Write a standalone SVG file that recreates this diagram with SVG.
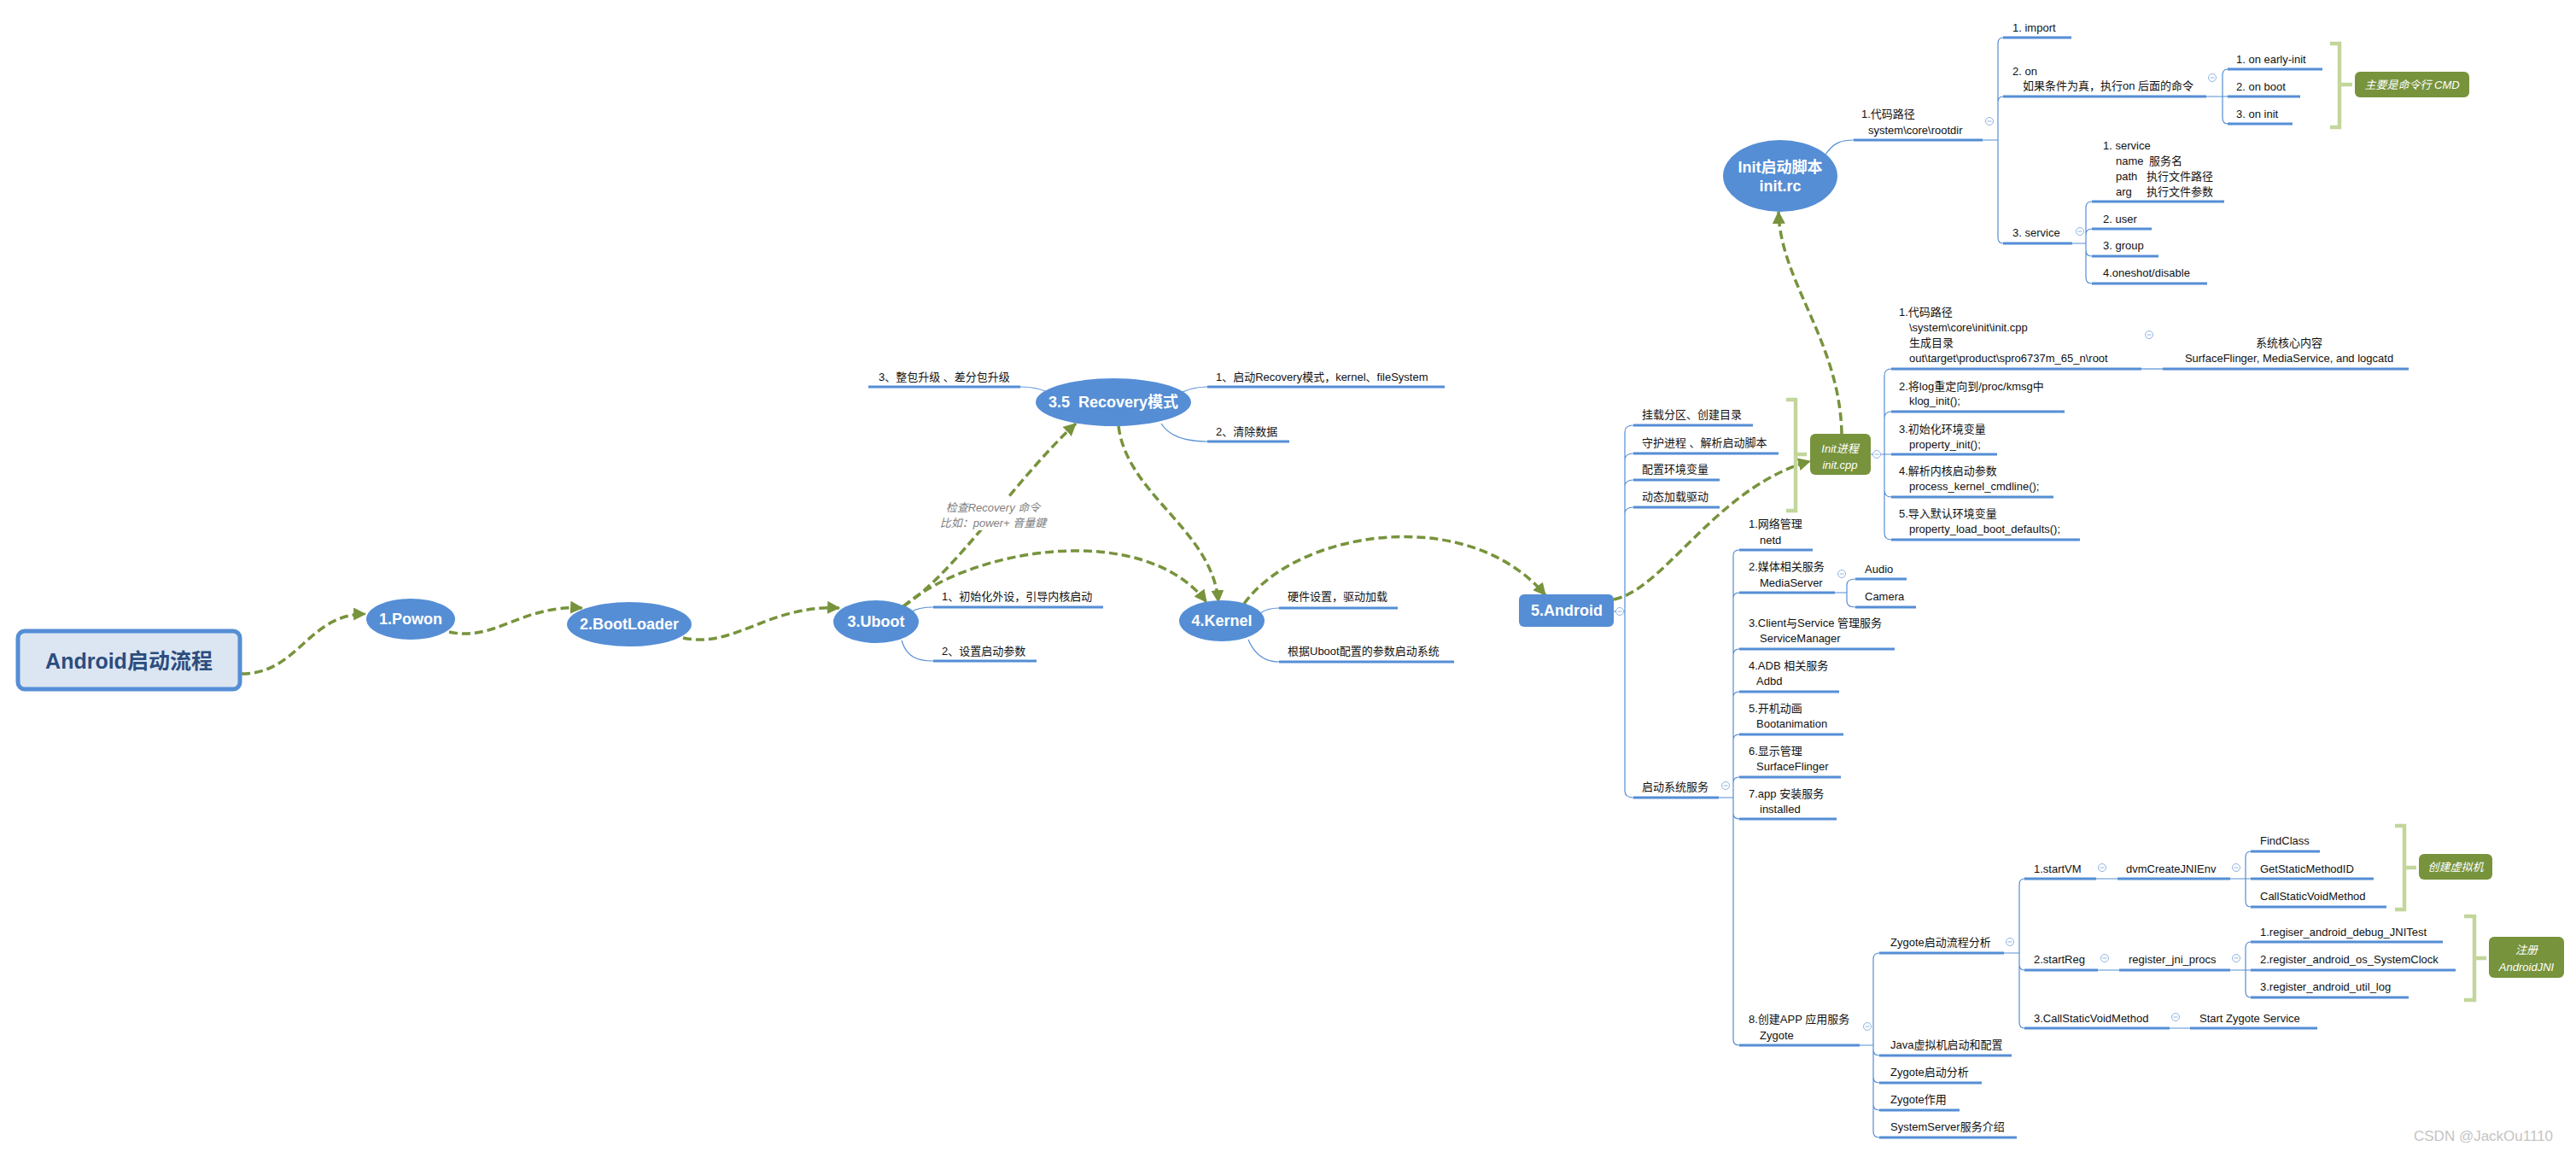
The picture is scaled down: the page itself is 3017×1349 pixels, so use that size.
<svg xmlns="http://www.w3.org/2000/svg" width="3017" height="1349" viewBox="0 0 3017 1349">
<style>
text{font-family:"Liberation Sans","Noto Sans CJK SC",sans-serif}
.t{font-size:13px;fill:#111}
.lab{font-size:18px;font-weight:bold;fill:#fff;text-anchor:middle}
.ul{stroke:#558ed5;stroke-width:3;fill:none}
.br{stroke:#558ed5;stroke-width:1.2;fill:none}
.flow{stroke:#77933c;stroke-width:3.5;stroke-dasharray:10 5;fill:none;marker-end:url(#ah)}
.bk{stroke:#c3d69b;stroke-width:4.5;fill:none}
.blue{fill:#558ed5}
.green{fill:#77933c}
.gt{font-size:13px;font-style:italic;fill:#fff;text-anchor:middle}
.rl{font-size:13px;font-style:italic;fill:#7f7f7f;text-anchor:middle}
</style>
<defs>
<marker id="ah" markerUnits="userSpaceOnUse" markerWidth="15" markerHeight="15" viewBox="0 0 14 14" refX="13" refY="7" orient="auto"><path d="M0,0 L14,7 L0,14 z" fill="#77933c"/></marker>
<g id="col"><circle r="4.5" fill="#fff" stroke="#8eb4e3" stroke-width="1"/><path d="M-2.5,0 H2.5" stroke="#8eb4e3" stroke-width="1"/></g>
</defs>
<rect width="3017" height="1349" fill="#fff"/>

<g id="connectors">
<path class="flow" d="M283,789 C350,789 360,719 428,719"/>
<path class="flow" d="M526,740 C580,752 610,708 682,712"/>
<path class="flow" d="M800,747 C860,760 900,708 983,712"/>
<path class="flow" d="M1058,710 C1120,670 1190,560 1260,496"/>
<path class="flow" d="M1058,710 C1140,640 1340,610 1413,705"/>
<path class="flow" d="M1310,499 C1320,580 1420,620 1427,705"/>
<path class="flow" d="M1457,707 C1520,620 1720,590 1810,697"/>
<path class="flow" d="M1890,702 C1950,690 2010,570 2120,540"/>
<path class="flow" d="M2157,508 C2155,400 2085,330 2083,248"/>
</g>

<g id="relation-label">
<rect x="1094" y="583" width="138" height="38" fill="#fff"/>
<text class="rl" x="1163" y="599">检查Recovery 命令</text>
<text class="rl" x="1163" y="617">比如：power+ 音量鍵</text>
</g>

<g id="root">
<rect x="21" y="739" width="260" height="68" rx="8" fill="#dce6f2" stroke="#558ed5" stroke-width="5"/>
<text x="151" y="783" text-anchor="middle" font-size="25" font-weight="bold" fill="#2c4d7e">Android启动流程</text>
</g>

<g id="powon"><ellipse class="blue" cx="481" cy="725" rx="52" ry="24"/><text class="lab" x="481" y="731">1.Powon</text></g>
<g id="bootloader"><ellipse class="blue" cx="737" cy="731" rx="73" ry="26"/><text class="lab" x="737" y="737">2.BootLoader</text></g>

<g id="uboot">
<ellipse class="blue" cx="1026" cy="728" rx="50" ry="25"/><text class="lab" x="1026" y="734">3.Uboot</text>
<path class="br" d="M1068,716 C1075,712 1082,711 1093,711"/>
<path class="ul" d="M1093,711 H1292"/>
<text class="t" x="1103" y="703">1、初始化外设，引导内核启动</text>
<path class="br" d="M1056,750 C1062,770 1075,774 1093,774"/>
<path class="ul" d="M1093,774 H1214"/>
<text class="t" x="1103" y="767">2、设置启动参数</text>
</g>

<g id="recovery">
<ellipse class="blue" cx="1304" cy="471" rx="91" ry="28"/><text class="lab" x="1304" y="477" xml:space="preserve">3.5  Recovery模式</text>
<path class="ul" d="M1017,453 H1195"/>
<path class="br" d="M1195,453 C1210,453 1218,455 1226,459"/>
<text class="t" x="1029" y="446">3、整包升级 、差分包升级</text>
<path class="br" d="M1385,459 C1394,455 1402,453 1414,453"/>
<path class="ul" d="M1414,453 H1692"/>
<text class="t" x="1424" y="446">1、启动Recovery模式，kernel、fileSystem</text>
<path class="br" d="M1360,496 C1370,512 1390,517 1414,517"/>
<path class="ul" d="M1414,517 H1510"/>
<text class="t" x="1424" y="510">2、清除数据</text>
</g>

<g id="kernel">
<ellipse class="blue" cx="1431" cy="727" rx="50" ry="24"/><text class="lab" x="1431" y="733">4.Kernel</text>
<path class="br" d="M1476,718 C1483,713 1489,712 1498,712"/>
<path class="ul" d="M1498,712 H1637"/>
<text class="t" x="1508" y="703">硬件设置，驱动加载</text>
<path class="br" d="M1462,749 C1470,768 1482,775 1498,775"/>
<path class="ul" d="M1498,775 H1703"/>
<text class="t" x="1508" y="767">根据Uboot配置的参数启动系统</text>
</g>

<g id="android">
<rect class="blue" x="1779" y="696" width="111" height="38" rx="6"/>
<text class="lab" x="1835" y="721">5.Android</text>
<path class="br" d="M1890,716 H1903"/>
<use href="#col" x="1897" y="716"/>
<path class="br" d="M1903,716 V506 Q1903,498 1913,498 M1903,539 Q1903,531 1913,531 M1903,570 Q1903,562 1913,562 M1903,602 Q1903,594 1913,594 M1903,716 V926 Q1903,934 1913,934"/>
</g>

<g id="android-children">
<path class="ul" d="M1913,498 H2053 M1913,531 H2083 M1913,562 H2014 M1913,594 H2014 M1913,934 H2013"/>
<text class="t" x="1923" y="490">挂载分区、创建目录</text>
<text class="t" x="1923" y="523" xml:space="preserve">守护进程 、解析启动脚本</text>
<text class="t" x="1923" y="554">配置环境变量</text>
<text class="t" x="1923" y="586">动态加载驱动</text>
<text class="t" x="1923" y="926">启动系统服务</text>
</g>

<g id="init-cpp">
<path class="bk" d="M2092,468 H2103 V598 H2092 M2103,532 H2116"/>
<rect class="green" x="2120" y="508" width="71" height="48" rx="6"/>
<text class="gt" x="2155" y="530" font-size="14">Init进程</text>
<text class="gt" x="2155" y="549" font-size="14">init.cpp</text>
<path class="br" d="M2191,532 H2207 M2207,532 V440 Q2207,432 2215,432 M2207,490 Q2207,482 2215,482 M2207,532 H2215 M2207,532 V624 Q2207,632 2215,632 M2207,574 Q2207,582 2215,582"/>
<use href="#col" x="2198" y="532"/>
</g>

<g id="init-cpp-children">
<path class="ul" d="M2215,432 H2508 M2215,482 H2418 M2215,532 H2339 M2215,582 H2405 M2215,632 H2436 M2533,432 H2821"/>
<path class="br" d="M2508,432 H2533"/>
<use href="#col" x="2517" y="392"/>
<text class="t" x="2224" y="370">1.代码路径</text>
<text class="t" x="2236" y="388">\system\core\init\init.cpp</text>
<text class="t" x="2236" y="406">生成目录</text>
<text class="t" x="2236" y="424">out\target\product\spro6737m_65_n\root</text>
<text class="t" x="2681" y="406" text-anchor="middle">系统核心内容</text>
<text class="t" x="2681" y="424" text-anchor="middle">SurfaceFlinger, MediaService, and logcatd</text>
<text class="t" x="2224" y="457">2.将log重定向到/proc/kmsg中</text>
<text class="t" x="2236" y="474">klog_init();</text>
<text class="t" x="2224" y="507">3.初始化环境变量</text>
<text class="t" x="2236" y="525">property_init();</text>
<text class="t" x="2224" y="556">4.解析内核启动参数</text>
<text class="t" x="2236" y="574">process_kernel_cmdline();</text>
<text class="t" x="2224" y="606">5.导入默认环境变量</text>
<text class="t" x="2236" y="624">property_load_boot_defaults();</text>
</g>

<g id="init-rc">
<ellipse class="blue" cx="2085" cy="206" rx="67" ry="42"/>
<text class="lab" x="2085" y="202">Init启动脚本</text>
<text class="lab" x="2085" y="224">init.rc</text>
<path class="br" d="M2138,181 C2148,166 2158,164 2171,164"/>
</g>

<g id="init-rc-children">
<path class="ul" d="M2171,164 H2322"/>
<text class="t" x="2180" y="138">1.代码路径</text>
<text class="t" x="2188" y="157">system\core\rootdir</text>
<use href="#col" x="2330" y="142"/>
<path class="br" d="M2322,164 H2340 M2340,164 V51 Q2340,44 2346,44 M2340,164 V120 Q2340,113 2346,113 M2340,164 V278 Q2340,285 2346,285"/>
<path class="ul" d="M2346,44 H2426 M2346,113 H2584 M2346,285 H2427"/>
<text class="t" x="2357" y="37">1. import</text>
<text class="t" x="2357" y="88">2. on</text>
<text class="t" x="2369" y="105">如果条件为真，执行on 后面的命令</text>
<text class="t" x="2357" y="277">3. service</text>
<use href="#col" x="2591" y="91"/>
<path class="br" d="M2584,113 H2603 M2603,113 V88 Q2603,81 2609,81 M2603,113 H2609 M2603,113 V138 Q2603,145 2609,145"/>
<path class="ul" d="M2609,81 H2720 M2609,113 H2694 M2609,145 H2685"/>
<text class="t" x="2619" y="74">1. on early-init</text>
<text class="t" x="2619" y="106">2. on boot</text>
<text class="t" x="2619" y="138">3. on init</text>
<path class="bk" d="M2729,51 H2740 V149 H2729 M2740,99 H2755"/>
<rect class="green" x="2758" y="84" width="134" height="30" rx="6"/>
<text class="gt" x="2825" y="104">主要是命令行 CMD</text>
<use href="#col" x="2436" y="271"/>
<path class="br" d="M2427,285 H2443 M2443,285 V243 Q2443,236 2450,236 M2443,285 V275 Q2443,268 2450,268 M2443,285 V293 Q2443,300 2450,300 M2443,285 V325 Q2443,332 2450,332"/>
<path class="ul" d="M2450,236 H2605 M2450,268 H2520 M2450,300 H2528 M2450,332 H2585"/>
<text class="t" x="2463" y="175">1. service</text>
<text class="t" y="193"><tspan x="2478">name</tspan><tspan x="2517">服务名</tspan></text>
<text class="t" y="211"><tspan x="2478">path</tspan><tspan x="2514">执行文件路径</tspan></text>
<text class="t" y="229"><tspan x="2478">arg</tspan><tspan x="2514">执行文件参数</tspan></text>
<text class="t" x="2463" y="261">2. user</text>
<text class="t" x="2463" y="292">3. group</text>
<text class="t" x="2463" y="324">4.oneshot/disable</text>
</g>

<g id="system-services">
<use href="#col" x="2021" y="920"/>
<path class="br" d="M2013,934 H2030 M2030,934 V651 Q2030,644 2037,644 M2030,701 Q2030,694 2037,694 M2030,767 Q2030,760 2037,760 M2030,817 Q2030,810 2037,810 M2030,867 Q2030,860 2037,860 M2030,917 Q2030,910 2037,910 M2030,934 V952 Q2030,959 2037,959 M2030,934 V1217 Q2030,1224 2037,1224"/>
<path class="ul" d="M2037,644 H2123 M2037,694 H2149 M2037,760 H2219 M2037,810 H2154 M2037,860 H2159 M2037,910 H2156 M2037,959 H2151 M2037,1224 H2178"/>
<text class="t" x="2048" y="618">1.网络管理</text>
<text class="t" x="2061" y="637">netd</text>
<text class="t" x="2048" y="668">2.媒体相关服务</text>
<text class="t" x="2061" y="687">MediaServer</text>
<text class="t" x="2048" y="734">3.Client与Service 管理服务</text>
<text class="t" x="2061" y="752">ServiceManager</text>
<text class="t" x="2048" y="784">4.ADB 相关服务</text>
<text class="t" x="2057" y="802">Adbd</text>
<text class="t" x="2048" y="834">5.开机动画</text>
<text class="t" x="2057" y="852">Bootanimation</text>
<text class="t" x="2048" y="884">6.显示管理</text>
<text class="t" x="2057" y="902">SurfaceFlinger</text>
<text class="t" x="2048" y="934">7.app 安装服务</text>
<text class="t" x="2061" y="952">installed</text>
<text class="t" x="2048" y="1198">8.创建APP 应用服务</text>
<text class="t" x="2061" y="1217">Zygote</text>
<use href="#col" x="2157" y="672"/>
<path class="br" d="M2149,694 H2163 M2163,694 V685 Q2163,678 2173,678 M2163,694 V704 Q2163,711 2173,711"/>
<path class="ul" d="M2173,678 H2233 M2173,711 H2244"/>
<text class="t" x="2184" y="671">Audio</text>
<text class="t" x="2184" y="703">Camera</text>
</g>

<g id="zygote">
<use href="#col" x="2187" y="1202"/>
<path class="br" d="M2178,1224 H2194 M2194,1224 V1123 Q2194,1116 2201,1116 M2194,1224 V1229 Q2194,1236 2201,1236 M2194,1224 V1261 Q2194,1268 2201,1268 M2194,1224 V1293 Q2194,1300 2201,1300 M2194,1224 V1325 Q2194,1332 2201,1332"/>
<path class="ul" d="M2201,1116 H2347 M2201,1236 H2356 M2201,1268 H2321 M2201,1300 H2295 M2201,1332 H2362"/>
<text class="t" x="2214" y="1108">Zygote启动流程分析</text>
<text class="t" x="2214" y="1228">Java虚拟机启动和配置</text>
<text class="t" x="2214" y="1260">Zygote启动分析</text>
<text class="t" x="2214" y="1292">Zygote作用</text>
<text class="t" x="2214" y="1324">SystemServer服务介绍</text>
<use href="#col" x="2354" y="1103"/>
<path class="br" d="M2347,1116 H2365 M2365,1116 V1036 Q2365,1029 2371,1029 M2365,1116 V1129 Q2365,1136 2371,1136 M2365,1116 V1197 Q2365,1204 2371,1204"/>
<path class="ul" d="M2371,1029 H2455 M2371,1136 H2457 M2371,1204 H2541"/>
<text class="t" x="2382" y="1022">1.startVM</text>
<text class="t" x="2382" y="1128">2.startReg</text>
<text class="t" x="2382" y="1197">3.CallStaticVoidMethod</text>
<use href="#col" x="2462" y="1016"/>
<use href="#col" x="2465" y="1122"/>
<use href="#col" x="2548" y="1191"/>
<path class="br" d="M2455,1029 H2480 M2457,1136 H2482 M2541,1204 H2565"/>
<path class="ul" d="M2480,1029 H2612 M2482,1136 H2612 M2565,1204 H2714"/>
<text class="t" x="2490" y="1022">dvmCreateJNIEnv</text>
<text class="t" x="2493" y="1128">register_jni_procs</text>
<text class="t" x="2576" y="1197">Start Zygote Service</text>
<use href="#col" x="2619" y="1016"/>
<use href="#col" x="2619" y="1122"/>
<path class="br" d="M2612,1029 H2630 M2630,1029 V1004 Q2630,997 2636,997 M2630,1029 H2636 M2630,1029 V1055 Q2630,1062 2636,1062"/>
<path class="br" d="M2612,1136 H2630 M2630,1136 V1110 Q2630,1103 2636,1103 M2630,1136 H2636 M2630,1136 V1161 Q2630,1168 2636,1168"/>
<path class="ul" d="M2636,997 H2717 M2636,1029 H2780 M2636,1062 H2795 M2636,1103 H2861 M2636,1136 H2876 M2636,1168 H2821"/>
<text class="t" x="2647" y="989">FindClass</text>
<text class="t" x="2647" y="1022">GetStaticMethodID</text>
<text class="t" x="2647" y="1054">CallStaticVoidMethod</text>
<text class="t" x="2647" y="1096">1.regiser_android_debug_JNITest</text>
<text class="t" x="2647" y="1128">2.register_android_os_SystemClock</text>
<text class="t" x="2647" y="1160">3.register_android_util_log</text>
<path class="bk" d="M2805,967 H2816 V1065 H2805 M2816,1016 H2830"/>
<rect class="green" x="2833" y="1000" width="86" height="30" rx="6"/>
<text class="gt" x="2876" y="1020">创建虚拟机</text>
<path class="bk" d="M2886,1073 H2898 V1171 H2886 M2898,1122 H2912"/>
<rect class="green" x="2915" y="1097" width="88" height="48" rx="6"/>
<text class="gt" x="2959" y="1117">注册</text>
<text class="gt" x="2959" y="1137">AndroidJNI</text>
</g>

<text x="2827" y="1336" font-size="17" fill="#c4c4c4">CSDN @JackOu1110</text>
</svg>
